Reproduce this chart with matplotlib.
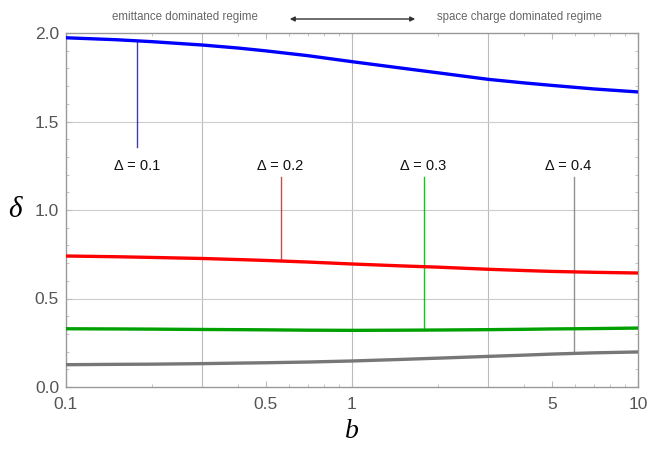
import numpy as np
import matplotlib
matplotlib.use("Agg")
import matplotlib.pyplot as plt
from matplotlib.ticker import FixedLocator, NullFormatter, FixedFormatter

# ---- data ----
b_vals = [0.1, 0.15, 0.2, 0.3, 0.4, 0.5, 0.7, 1.0, 1.5, 2.0, 3.0, 4.0, 5.0, 7.0, 10.0]
delta_01 = [1.973, 1.962, 1.951, 1.932, 1.915, 1.899, 1.872, 1.838, 1.801, 1.775, 1.738, 1.718, 1.704, 1.684, 1.667]
delta_02 = [0.740, 0.736, 0.732, 0.726, 0.720, 0.715, 0.706, 0.695, 0.684, 0.677, 0.665, 0.658, 0.653, 0.648, 0.644]
delta_03 = [0.329, 0.328, 0.327, 0.325, 0.324, 0.323, 0.321, 0.320, 0.321, 0.322, 0.324, 0.326, 0.328, 0.330, 0.333]
delta_04 = [0.126, 0.128, 0.129, 0.132, 0.135, 0.137, 0.141, 0.147, 0.156, 0.163, 0.173, 0.180, 0.186, 0.193, 0.198]
series = [delta_01, delta_02, delta_03, delta_04]
colors = ["#0000ff", "#ff0000", "#00a000", "#777777"]
label_texts = ["Δ = 0.1", "Δ = 0.2", "Δ = 0.3", "Δ = 0.4"]
label_line_b = [0.177, 0.563, 1.78, 5.99]
label_line_top = [1.356, 1.188, 1.188, 1.188]
label_text_b = [0.177, 0.56, 1.78, 5.69]
label_text_y = 1.25
x_ticks = [0.1, 0.5, 1, 5, 10]
x_ticklabels = ["0.1", "0.5", "1", "5", "10"]
y_ticks = [0.0, 0.5, 1.0, 1.5, 2.0]
y_ticklabels = ["0.0", "0.5", "1.0", "1.5", "2.0"]
x_grid = [0.3, 1, 3]
y_grid = [0.5, 1.0, 1.5]

fig = plt.figure(figsize=(6.62, 4.49), dpi=100)
ax = fig.add_axes([66/662, 1-387/449, (638-66)/662, (387-33)/449])
ax.set_xscale("log")
ax.set_xlim(0.1, 10)
ax.set_ylim(0, 2.0)

for g in x_grid:
    ax.axvline(g, color="#bbbbbb", lw=0.8, zorder=0)
for g in y_grid:
    ax.axhline(g, color="#cccccc", lw=0.8, zorder=0)

for ys, c in zip(series, colors):
    ax.plot(b_vals, ys, color=c, lw=2.4, solid_capstyle="butt", zorder=3)

logb = np.log10(b_vals)
for ys, c, lb, top in zip(series, colors, label_line_b, label_line_top):
    ycurve = np.interp(np.log10(lb), logb, ys)
    ax.plot([lb, lb], [ycurve, top], color=c, lw=1.0, alpha=0.8, zorder=2)
for t, tb in zip(label_texts, label_text_b):
    ax.text(tb, label_text_y, t, ha="center", va="center", fontsize=10.5,
            family="Liberation Sans", color="#111111")

# ticks
ax.xaxis.set_major_locator(FixedLocator(x_ticks))
ax.xaxis.set_major_formatter(FixedFormatter(x_ticklabels))
minor_x = [v * d for d in (0.1, 1) for v in range(2, 10)]
ax.xaxis.set_minor_locator(FixedLocator(minor_x))
ax.xaxis.set_minor_formatter(NullFormatter())
ax.yaxis.set_major_locator(FixedLocator(y_ticks))
ax.yaxis.set_major_formatter(FixedFormatter(y_ticklabels))
ax.yaxis.set_minor_locator(FixedLocator(np.round(np.arange(0, 2.01, 0.1), 2)))
ax.tick_params(which="both", direction="in", top=True, right=True,
               color="#bbbbbb", labelcolor="#555555", labelsize=12.5)
ax.tick_params(which="major", length=4, width=0.8)
ax.tick_params(axis="x", which="major", pad=7)
ax.tick_params(axis="y", which="major", pad=5)
ax.tick_params(which="minor", length=2, width=0.6)
for lab in ax.get_xticklabels() + ax.get_yticklabels():
    lab.set_family("Liberation Sans")
for s in ax.spines.values():
    s.set_color("#999999")
    s.set_linewidth(1.0)

ax.set_xlabel("b", fontsize=20, family="Liberation Serif", style="italic", labelpad=5)
ax.set_ylabel("δ", fontsize=21, family="Liberation Serif", style="italic", rotation=0,
              labelpad=14, va="center")

# top annotations
fig.text(185/662, 1-17/449, "emittance dominated regime", ha="center", va="center",
         fontsize=8.3, color="#666666", family="Liberation Sans")
fig.text(519/662, 1-17/449, "space charge dominated regime", ha="center", va="center",
         fontsize=8.3, color="#666666", family="Liberation Sans")
fig.add_artist(matplotlib.patches.FancyArrowPatch(
    (287/662, 1-19/449), (418/662, 1-19/449), transform=fig.transFigure,
    arrowstyle="<|-|>", mutation_scale=7, color="#333333", lw=1.0))

fig.savefig("out.png", dpi=100)
